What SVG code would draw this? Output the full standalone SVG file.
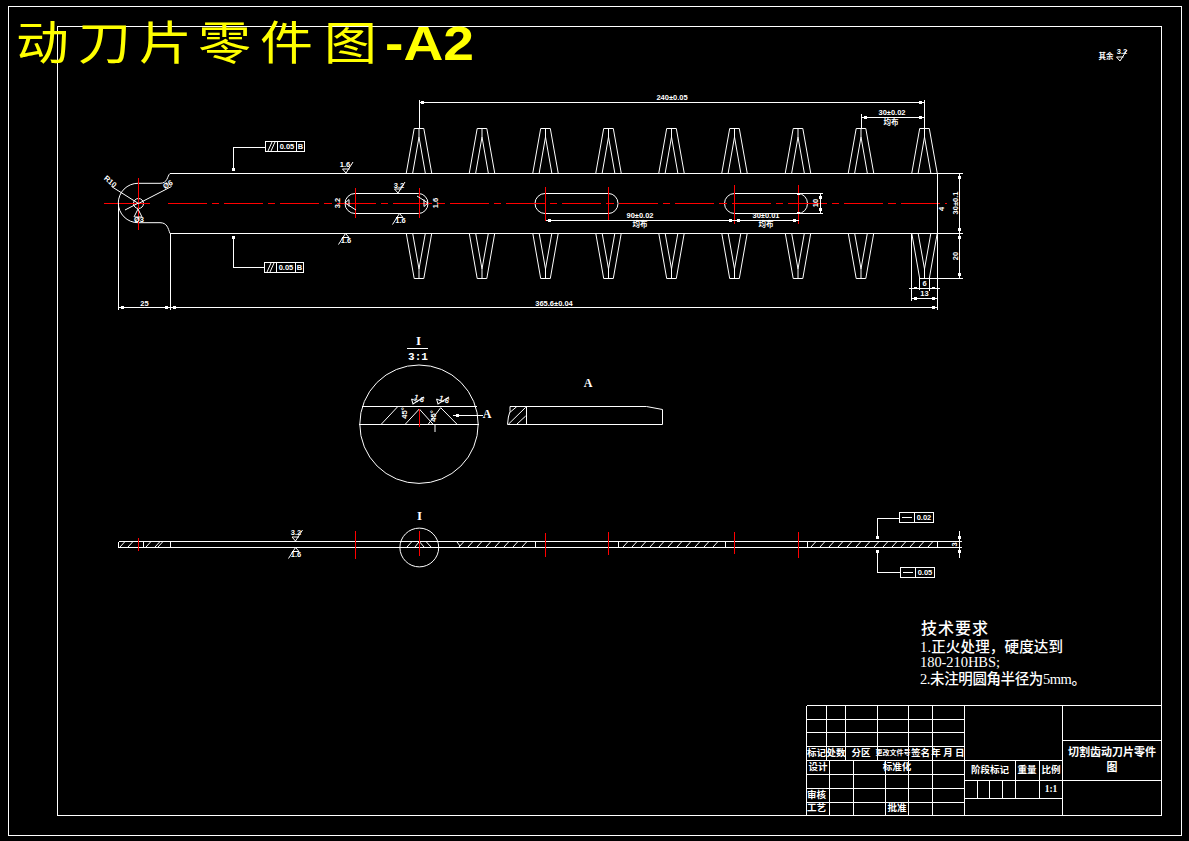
<svg xmlns="http://www.w3.org/2000/svg" xmlns:xlink="http://www.w3.org/1999/xlink" width="1189" height="841" viewBox="0 0 1189 841">
<style>
.l{fill:none;stroke:#fff;stroke-width:1;shape-rendering:crispEdges}
.c{fill:none;stroke:#fff;stroke-width:1}
.r{fill:none;stroke:#f00;stroke-width:1.4;shape-rendering:crispEdges}
.m{fill:#fff;stroke:none;shape-rendering:crispEdges}
text{fill:#fff;font-family:"Liberation Sans","Noto Sans CJK SC",sans-serif}
.s{font-size:7.5px;font-weight:700;text-anchor:middle;dominant-baseline:middle}
.t{font-size:9.5px;font-weight:700;text-anchor:middle;dominant-baseline:middle;font-family:"Liberation Serif","Noto Sans CJK SC",sans-serif}
.b{font-family:"Liberation Serif","Noto Sans CJK SC",serif;font-weight:700;text-anchor:middle;dominant-baseline:middle}
.q{font-family:"Liberation Serif","Noto Sans CJK SC",serif;font-size:14.5px;font-weight:500}
</style>
<defs>
<path id="tu" class="c" d="M-12.7 173L-4.8 128.5H4.8L12.7 173M-6.3 173L0 137L6.3 173M0 128.5V137"/>
<path id="td" class="c" d="M-12.7 233.5L-4.8 278.5H4.8L12.7 233.5M-6.3 233.5L0 269L6.3 233.5M0 278.5V269"/>
<path id="ru" class="c" d="M-3.5 -4H3.5M-3.5 -4L0 0L7 -11"/>
<path id="slot" class="c" d="M0 193.5H63.5A9.5 10 0 0 1 63.5 213.5H0A10 10 0 0 1 0 193.5"/>
</defs>
<rect width="1189" height="841" fill="#000"/>
<g id="frames">
<rect class="l" x="8.5" y="6.5" width="1173" height="828.5"/>
<rect class="l" x="57.5" y="26.5" width="1104" height="788.5"/>
</g>
<g id="sheet-title">
<text transform="scale(1.15 1)" y="59" font-size="46" style="fill:#ff0;font-family:'Noto Sans CJK SC',sans-serif" x="13.9 67.8 120.9 172.2 226.1 281.7">动刀片零件图</text>
<text x="385" y="59.5" textLength="89" lengthAdjust="spacingAndGlyphs" style="fill:#ff0;font-family:'Liberation Sans',sans-serif;font-weight:700;font-size:48px">-A2</text>
</g>

<g id="main-view">
<path class="l" d="M170 173.5H937.5M170 233.5H937.5"/>
<path class="c" d="M170 173.5C167 176 168 183.3 160 183.3H138A19.7 19.7 0 0 0 138 222.7H160C167 222.7 168 228 170 233.5"/>
<circle class="c" cx="138.5" cy="203.5" r="5"/>
<use href="#slot" x="355"/>
<use href="#slot" x="545"/>
<use href="#slot" x="734.5"/>
<use href="#tu" x="419"/><use href="#tu" x="482"/><use href="#tu" x="545.5"/><use href="#tu" x="608.5"/><use href="#tu" x="671.5"/><use href="#tu" x="734.5"/><use href="#tu" x="798"/><use href="#tu" x="861"/><use href="#tu" x="924.5"/>
<use href="#td" x="419"/><use href="#td" x="482"/><use href="#td" x="545.5"/><use href="#td" x="608.5"/><use href="#td" x="671.5"/><use href="#td" x="734.5"/><use href="#td" x="798"/><use href="#td" x="861"/><use href="#td" x="924.5"/>
<path class="r" style="stroke-width:1" d="M104 203.5H150"/>
<line class="r" style="stroke-width:1" x1="167.5" y1="203.5" x2="947" y2="203.5" stroke-dasharray="39 5 7.4 5"/>
<path class="r" d="M138.5 178V230M355.5 188V218M419.5 188V218M545.5 187V221M608.5 187V220M734.5 185V224M798.5 185V224"/>
</g>

<g id="dimensions">
<path class="l" d="M419.5 100V128M924.5 100V128M419.5 102.5H924.5M861.5 114V128M861.5 117.5H924.5"/>
<path class="l" d="M937.5 173.5H963M937.5 233.5H963M924.5 278.5H963M959.5 173.5V233.5M959.5 233.5V278.5M937.5 173.5V310"/>
<path class="l" d="M798 193.5H823M798 213.5H823M820.5 193.5V213.5"/>
<path class="l" d="M545.5 220.5H798.5"/>
<path class="l" d="M118.5 203V310M170.5 233.5V310M118.5 307.5H937.5"/>
<path class="l" d="M911.5 233.5V301M919.5 278V290M929.5 278V291M909 288.5H940M911.5 298.5H937.5"/>
<path class="l" d="M265 147.5H233.5V169M264 267.5H233.5V237"/>
<path class="c" d="M111.5 186.5L138.5 203.5L171.5 186.5M125 210L138.5 203M134 217L138 209L142 217M134.500 217H141.500"/>
<path class="m" d="M421 101h3v3h-3zM919 101h3v3h-3zM864 116h3v3h-3zM919 116h3v3h-3zM548 219h3v3h-3zM729 219h3v3h-3zM737 219h3v3h-3zM793 219h3v3h-3zM121 306h3v3h-3zM165 306h3v3h-3zM173 306h3v3h-3zM932 306h3v3h-3zM914 297h3v3h-3zM932 297h3v3h-3zM914 287h3v2h-3zM932 287h3v2h-3zM958 176h3v3h-3zM958 228h3v3h-3zM958 236h3v3h-3zM958 273h3v3h-3zM819 196h3v3h-3zM819 208h3v3h-3zM797 193h3v2h-3zM797 212h3v2h-3zM232 168h3v3h-3zM232 236h3v3h-3z"/>
<text class="s" x="672" y="98.5">240±0.05</text>
<text class="s" x="892" y="113.5">30±0.02</text>
<text class="s" x="891" y="123">均布</text>
<text class="s" x="640" y="216.5">90±0.02</text>
<text class="s" x="640" y="225.5">均布</text>
<text class="s" x="766" y="216.5">30±0.01</text>
<text class="s" x="766" y="225.5">均布</text>
<text class="s" x="554" y="304">365.6±0.04</text>
<text class="s" x="144.500" y="304">25</text>
<text class="s" x="924.5" y="284.5">6</text>
<text class="s" x="924.5" y="294.5">13</text>
<text class="s" transform="translate(956 203) rotate(-90)">30±0.1</text>
<text class="s" transform="translate(942.5 209) rotate(-90)">4</text>
<text class="s" transform="translate(956 256) rotate(-90)">20</text>
<text class="s" transform="translate(816.5 203) rotate(-90)">10</text>
<text class="s" transform="translate(110 182) rotate(40)">R10</text>
<text class="s" transform="translate(168 185) rotate(-30)">Ø6</text>
<text class="s" x="139" y="220">Ø3</text>
</g>

<g id="tolerance-frames">
<rect class="l" x="265.5" y="141.5" width="39" height="10"/>
<path class="l" d="M277.5 141.5V151.5M296.5 141.5V151.5"/>
<path class="c" d="M268 151L272 142M271 151L275 142"/>
<text class="s" x="287" y="147">0.05</text><text class="s" x="300.5" y="147">B</text>
<rect class="l" x="264.5" y="262.5" width="39" height="10"/>
<path class="l" d="M276.5 262.5V272.5M295.5 262.5V272.5"/>
<path class="c" d="M267 272L271 263M270 272L274 263"/>
<text class="s" x="286" y="268">0.05</text><text class="s" x="299.5" y="268">B</text>
</g>

<g id="roughness">
<use href="#ru" x="346" y="173"/><text class="s" x="345" y="165">1.6</text>
<use href="#ru" x="398" y="193"/><text class="s" x="399" y="186">3.2</text>
<use href="#ru" transform="translate(399.5 213.5) scale(-1 -1)"/><text class="s" x="400.5" y="221">1.6</text>
<use href="#ru" transform="translate(345.5 233.5) scale(-1 -1)"/><text class="s" x="346" y="241">1.6</text>
<use href="#ru" transform="translate(345 203) rotate(90)"/><text class="s" transform="translate(338 203) rotate(-90)">3.2</text>
<use href="#ru" transform="translate(428 203) rotate(-90)"/><text class="s" transform="translate(436 203) rotate(-90)">1.6</text>
<use href="#ru" x="1120" y="61"/><text class="s" x="1106" y="57">其余</text><text class="s" x="1122" y="52">3.2</text>
<use href="#ru" x="295.5" y="541"/><text class="s" x="296" y="533">3.2</text>
<use href="#ru" transform="translate(295.5 547.5) scale(-1 -1)"/><text class="s" x="296" y="555">1.6</text>
</g>

<g id="detail-I">
<text class="b" x="418.5" y="342" font-size="13">I</text>
<path class="l" d="M407 348.5H428"/>
<text class="b" x="418" y="357.5" font-size="11" style="font-family:'Liberation Mono',monospace">3:1</text>
<circle class="c" cx="419" cy="424.2" r="59.2"/>
<path class="l" d="M362 406.5H477M359 424.5H479"/>
<path class="c" d="M381 424.5L397.7 406.7M405 424.5L419.3 409L433.3 424.5M428 424.5L440.7 407.7L457.3 424.5"/>
<path class="r" d="M419.5 409V427"/>
<path class="l" d="M453 415.5H483"/>
<path class="m" d="M456 414h3v3h-3z"/>
<text class="b" x="487" y="415.5" font-size="12">A</text>
<text class="s" transform="translate(405 413) rotate(-90)">45°</text>
<text class="s" transform="translate(434 416) rotate(-90)">45°</text>
<use href="#ru" transform="translate(413 404) rotate(25)"/><text class="s" x="419" y="399" transform="rotate(20 419 399)">1.6</text>
<use href="#ru" transform="translate(438 404) rotate(25)"/><text class="s" x="444" y="400" transform="rotate(20 444 400)">1.6</text>
<path class="c" d="M435 424V432"/>
</g>

<g id="view-A">
<text class="b" x="588" y="384" font-size="12">A</text>
<path class="c" d="M510 406.5H646.5L662.5 409.5V424.5H507.5Q508 416 510 411.5V406.5"/>
<path class="l" d="M526.5 406.5V424.5"/>
<path class="c" d="M510 412.3L516.7 406.7M508.3 424.3L525.7 407.3M516.7 424.3L525.7 416"/>
</g>

<g id="side-view">
<path class="l" d="M118.5 541.5H961.5M118.5 547.5H961.5M118.5 541.5V547.5M143.5 541.5V547.5M170.5 541.5V547.5M535.5 541.5V547.5M618.5 541.5V547.5M725.5 541.5V547.5M807.5 541.5V547.5M937.5 541.5V547.5"/>
<path class="c" d="M120 547L125 541.5M128 547L133 541.5M146 547L151 541.5M155 547L160 541.5M158 547L163 541.5M457 542L460 546M459 547L464 541.5M468 547L473 541.5M477 547L482 541.5M486 547L491 541.5M495 547L500 541.5M504 547L509 541.5M513 547L518 541.5M522 547L527 541.5"/>
<path class="c" d="M623 547L628 541.5M632 547L637 541.5M641 547L646 541.5M650 547L655 541.5M659 547L664 541.5M668 547L673 541.5M677 547L682 541.5M686 547L691 541.5M695 547L700 541.5M704 547L709 541.5M713 547L718 541.5"/>
<path class="c" d="M811 547L816 541.5M820 547L825 541.5M829 547L834 541.5M838 547L843 541.5M847 547L852 541.5M856 547L861 541.5M865 547L870 541.5M874 547L879 541.5M883 547L888 541.5M892 547L897 541.5M901 547L906 541.5M910 547L915 541.5M919 547L924 541.5M928 547L933 541.5"/>
<circle class="c" cx="419.3" cy="547.5" r="19.4"/>
<path class="c" d="M407 547L412 541.5M415 547L419.3 541.5L424 547M426 541.5L431 547"/>
<path class="r" d="M138.5 538V551M355.5 531V559M419.5 531V556M545.5 533V557M608.5 532V555M734.5 532V554M798.5 532V558"/>
<text class="b" x="419.5" y="517" font-size="13">I</text>
<path class="l" d="M899 518.5H877.5V537M900 572.5H877.5V552M959.5 531V558"/>
<path class="m" d="M876 536h3v3h-3zM876 550h3v3h-3zM958 536h3v3h-3zM958 550h3v3h-3z"/>
<rect class="l" x="899.5" y="512.5" width="34" height="10"/>
<path class="l" d="M914.5 512.5V522.5M902 517.5H912"/>
<text class="s" x="924" y="518">0.02</text>
<rect class="l" x="900.5" y="567.5" width="34" height="10"/>
<path class="l" d="M915.5 567.5V577.5M903 572.5H913"/>
<text class="s" x="925" y="573">0.05</text>
<text class="s" x="955" y="544.5" transform="rotate(-90 955 544.5)">3</text>
</g>

<g id="requirements">
<text class="q" x="921" y="634" style="font-size:16px" textLength="67">技术要求</text>
<text class="q" x="920" y="652" textLength="143">1.正火处理，硬度达到</text>
<text class="q" x="920" y="667" textLength="80">180-210HBS;</text>
<text class="q" x="920" y="684" textLength="166">2.未注明圆角半径为5mm。</text>
</g>

<g id="title-block">
<path class="l" d="M806.5 705.5H1161.5M806.5 719.5H964.5M806.5 732.5H964.5M806.5 746.5H964.5M806.5 760.5H1062.5M806.5 774.5H964.5M806.5 788.5H964.5M806.5 802.5H964.5M806.5 815.5H1161.5"/>
<path class="l" d="M806.5 705.5V815.5M826.5 705.5V760.5M845.5 705.5V760.5M877.5 705.5V760.5M908.5 705.5V815.5M932.5 705.5V815.5M964.5 705.5V815.5M1062.5 705.5V815.5"/>
<path class="l" d="M829.5 760.5V815.5M853.5 760.5V815.5M885.5 760.5V815.5"/>
<path class="l" d="M964.5 780.5H1161.5M964.5 798.5H1062.5M1015.5 760.5V798.5M1039.5 760.5V798.5M977.5 780.5V798.5M989.5 780.5V798.5M1002.5 780.5V798.5M1062.5 740.5H1161.5"/>
<text class="t" x="816.5" y="753.5">标记</text>
<text class="t" x="836" y="753.5">处数</text>
<text class="t" x="861" y="753.5">分区</text>
<text class="t" x="893" y="753.5" style="font-size:7px">更改文件号</text>
<text class="t" x="920.5" y="753.5">签名</text>
<text class="t" x="948" y="753.5">年 月 日</text>
<text class="t" x="818" y="767.5">设计</text>
<text class="t" x="897" y="767.5">标准化</text>
<text class="t" x="816.5" y="795.5">审核</text>
<text class="t" x="816.5" y="809">工艺</text>
<text class="t" x="897" y="809">批准</text>
<text class="t" x="990" y="770.5">阶段标记</text>
<text class="t" x="1027" y="770.5">重量</text>
<text class="t" x="1051" y="770.5">比例</text>
<text class="t" x="1051" y="789.5">1:1</text>
<text class="t" x="1112" y="753.5" style="font-size:11px">切割齿动刀片零件</text>
<text class="t" x="1112" y="768.5" style="font-size:11px">图</text>
</g>
</svg>
